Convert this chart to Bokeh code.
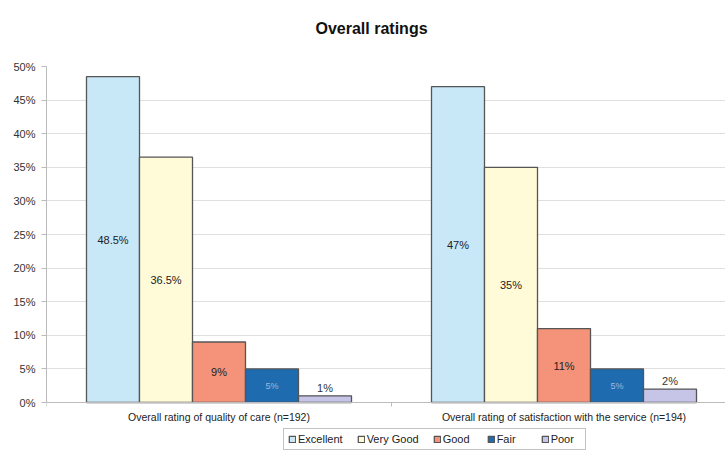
from bokeh.plotting import figure
from bokeh.models import (ColumnDataSource, Range1d, FixedTicker, PrintfTickFormatter,
                          Legend, LegendItem)
from bokeh.core.properties import value
from bokeh.embed import file_html
from bokeh.resources import INLINE

# ---- data ----
categories = ["Overall rating of quality of care (n=192)",
              "Overall rating of satisfaction with the service (n=194)"]
series = ["Excellent", "Very Good", "Good", "Fair", "Poor"]
quality_of_care = [48.5, 36.5, 9, 5, 1]
satisfaction = [47, 35, 11, 5, 2]
y_ticks = [0, 5, 10, 15, 20, 25, 30, 35, 40, 45, 50]

# ---- styles ----
colors = ["#C8E8F8", "#FFFBD8", "#F4937A", "#1E6BB0", "#C6C5E8"]
label_colors = ["#222222", "#222222", "#222222", "#9DB9DC", "#333333"]
label_sizes = ["11px", "11px", "11px", "9px", "11px"]
FONT = "Liberation Sans"

values = [quality_of_care, satisfaction]
bar_w = 53 / 345.0
offsets = [(i - 2) * bar_w for i in range(len(series))]

PX_PER_UNIT = 336 / 50.0
y_lo = -(451 - 402) / PX_PER_UNIT

p = figure(width=725, height=451, output_backend="svg", toolbar_location=None,
           x_range=Range1d(-0.5, -0.5 + 679 / 345.0), y_range=Range1d(y_lo, 50),
           min_border_left=46, min_border_right=0, min_border_top=66,
           min_border_bottom=0, outline_line_color=None,
           background_fill_color="white", border_fill_color="white")

p.title.text = "Overall ratings"
p.title.text_font = FONT
p.title.text_font_size = "16px"
p.title.text_font_style = "bold"
p.title.text_color = "#111111"
p.title.align = "left"
p.title.padding = dict(left=0, right=0, top=0, bottom=30)
p.title.offset = 269
p.title.standoff = 0

legend_items = []
for si, name in enumerate(series):
    xs = [ci + offsets[si] for ci in range(len(categories))]
    tops = [values[ci][si] for ci in range(len(categories))]
    src = ColumnDataSource(dict(x=xs, top=tops))
    r = p.vbar(x="x", top="top", bottom=0, width=bar_w, source=src,
               fill_color=colors[si], line_color="#555555", line_width=1.3)
    legend_items.append(LegendItem(label=name, renderers=[r]))
    # value labels
    ys = [t / 2 if t >= 3 else t + 1.2 for t in tops]
    labs = ["%g%%" % t for t in tops]
    lsrc = ColumnDataSource(dict(x=xs, y=ys, t=labs))
    p.text(x="x", y="y", text="t", source=lsrc, text_align="center",
           text_baseline="middle", text_font=value(FONT),
           text_font_size=label_sizes[si], text_color=label_colors[si])

# axes
p.yaxis.ticker = FixedTicker(ticks=y_ticks)
p.yaxis.bounds = (0, 50)
p.yaxis.formatter = PrintfTickFormatter(format="%d%%")
p.yaxis.major_label_text_font = FONT
p.yaxis.major_label_text_font_size = "11px"
p.yaxis.major_label_text_color = "#333333"
p.yaxis.axis_line_color = "#BBBBBB"
p.yaxis.major_tick_line_color = "#BBBBBB"
p.yaxis.major_tick_out = 5
p.yaxis.major_tick_in = 0
p.yaxis.minor_tick_line_color = None
p.yaxis.major_label_standoff = 6

p.xaxis.fixed_location = 0
p.xaxis.ticker = FixedTicker(ticks=list(range(len(categories))), minor_ticks=[-0.5, 0.5, 1.5])
p.xaxis.major_label_overrides = {i: c for i, c in enumerate(categories)}
p.xaxis.major_label_text_font = FONT
p.xaxis.major_label_text_font_size = "10.5px"
p.xaxis.major_label_text_color = "#222222"
p.xaxis.axis_line_color = "#BBBBBB"
p.xaxis.major_tick_line_color = None
p.xaxis.major_tick_out = 0
p.xaxis.major_tick_in = 0
p.xaxis.minor_tick_line_color = "#BBBBBB"
p.xaxis.minor_tick_out = 4
p.xaxis.minor_tick_in = 0
p.xaxis.major_label_standoff = 4

p.xgrid.visible = False
p.ygrid.ticker = FixedTicker(ticks=y_ticks[1:-1])
p.ygrid.grid_line_color = "#E2DEDE"
p.ygrid.grid_line_width = 1

legend = Legend(items=legend_items, orientation="horizontal",
                location=(237, 1),
                label_text_font=FONT, label_text_font_size="11px",
                label_text_color="#222222",
                glyph_width=8, glyph_height=8, label_standoff=2, spacing=14,
                label_width=30,
                padding=4, margin=0, label_height=10,
                border_line_color="#888888", border_line_width=1,
                background_fill_color="white")
p.add_layout(legend, "center")

open("out.html", "w").write(file_html(p, INLINE))
